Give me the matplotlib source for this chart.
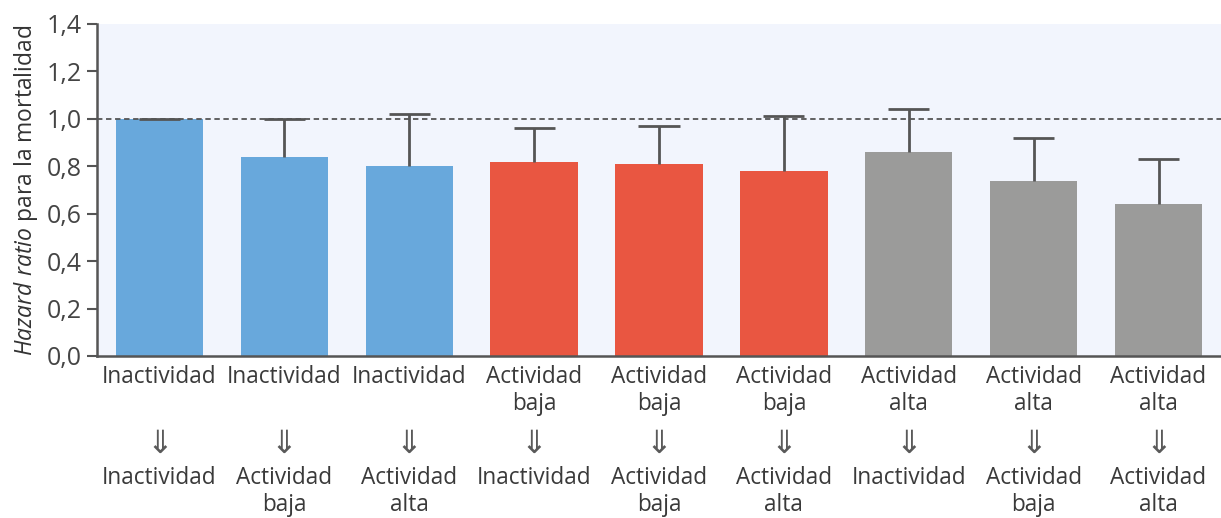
import matplotlib
matplotlib.use("Agg")
import matplotlib.pyplot as plt
from matplotlib.transforms import blended_transform_factory

# data
before = ["Inactividad", "Inactividad", "Inactividad",
          "Actividad\nbaja", "Actividad\nbaja", "Actividad\nbaja",
          "Actividad\nalta", "Actividad\nalta", "Actividad\nalta"]
after = ["Inactividad", "Actividad\nbaja", "Actividad\nalta",
         "Inactividad", "Actividad\nbaja", "Actividad\nalta",
         "Inactividad", "Actividad\nbaja", "Actividad\nalta"]
hr = [1.00, 0.84, 0.80, 0.82, 0.81, 0.78, 0.86, 0.74, 0.64]
upper = [1.00, 1.00, 1.02, 0.96, 0.97, 1.01, 1.04, 0.92, 0.83]
groups = [0, 0, 0, 1, 1, 1, 2, 2, 2]
group_colors = ["#68a8dc", "#e95641", "#9b9b9a"]

plt.rcParams["font.family"] = ["Open Sans", "DejaVu Sans"]
plt.rcParams["mathtext.fontset"] = "custom"
plt.rcParams["mathtext.it"] = "Open Sans:italic"
plt.rcParams["mathtext.rm"] = "Open Sans"

W, H = 1221, 518
fig = plt.figure(figsize=(W / 100, H / 100), dpi=100)
ax = fig.add_axes([97 / W, 1 - 356 / H, 1 - 97 / W, (356 - 24) / H])
ax.set_facecolor("#f2f5fd")

x = list(range(len(hr)))
colors = [group_colors[g] for g in groups]
ax.bar(x, hr, width=0.7, color=colors, zorder=2)
# upper whiskers only
ax.vlines(x, hr, upper, color="#555555", linewidth=2, zorder=3)
ax.hlines(upper, [xi - 0.165 for xi in x], [xi + 0.165 for xi in x],
          color="#555555", linewidth=2, zorder=3)
ax.axhline(1.0, color="#555555", linestyle=(0, (3, 2)), linewidth=1.3, zorder=4)

ax.set_xlim(-0.5, len(hr) - 0.5)
ax.set_ylim(0, 1.4)
ax.set_yticks([i / 5 for i in range(8)])
ax.set_yticklabels([f"{i / 5:.1f}".replace(".", ",") for i in range(8)],
                   fontsize=18, color="#444444")
ax.set_xticks([])
ax.tick_params(axis="y", length=7, width=1.5, color="#555555", pad=4)
for s in ["top", "right"]:
    ax.spines[s].set_visible(False)
for s in ["left", "bottom"]:
    ax.spines[s].set_color("#555555")
    ax.spines[s].set_linewidth(1.8)

ax.set_ylabel(r"$\mathit{Hazard\ ratio}$ para la mortalidad", fontsize=16.5,
              color="#333333", labelpad=5)

trans = blended_transform_factory(ax.transData, fig.transFigure)
for xi, b, a in zip(x, before, after):
    ax.text(xi, 1 - 365 / H, b, transform=trans, ha="center", va="top",
            fontsize=16.3, color="#3a3a3a", linespacing=1.15)
    ax.text(xi, 1 - 444 / H, "\u21d3", transform=trans, ha="center", va="center",
            fontsize=23, color="#5a5a5a", family=["DejaVu Sans"])
    ax.text(xi, 1 - 466 / H, a, transform=trans, ha="center", va="top",
            fontsize=16.3, color="#3a3a3a", linespacing=1.15)

fig.savefig("out.png", dpi=100)
